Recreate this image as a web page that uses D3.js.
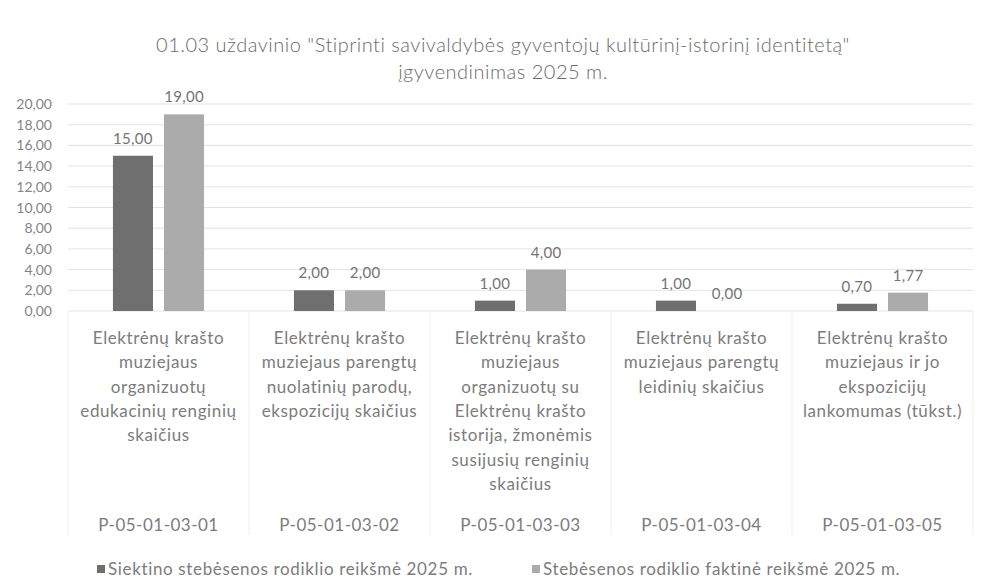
<!DOCTYPE html>
<html>
  <head>
    <meta charset="utf-8">
    <script src="https://cdnjs.cloudflare.com/ajax/libs/d3/7.8.5/d3.min.js"></script>
    <style>
      body { margin: 0; background: #fff; }
      svg { font-family: Lato, "Open Sans", sans-serif; }
      .grid line { stroke: #e3e3e3; stroke-width: 1; }
      .sep { stroke: #eeeeee; stroke-width: 1; }
      .tick-label { fill: #858585; font-size: 14px; }
      .value { fill: #747474; font-size: 15px; letter-spacing: 0.3px; }
      .cat { fill: #7c7c7c; font-size: 17px; letter-spacing: 0.6px; }
      .code { fill: #7c7c7c; font-size: 17px; letter-spacing: 0.5px; }
      .title { fill: #6a6a6a; font-size: 20px; letter-spacing: 0.5px; font-weight: 300; }
      .legend { fill: #7c7c7c; font-size: 17px; letter-spacing: 0.65px; }
    </style>
  </head>
  <body>
    <svg width="984" height="587"></svg>
    <script>
      var codes = ["P-05-01-03-01", "P-05-01-03-02", "P-05-01-03-03", "P-05-01-03-04", "P-05-01-03-05"];
      var categories = [
        ["Elektrėnų krašto", "muziejaus", "organizuotų", "edukacinių renginių", "skaičius"],
        ["Elektrėnų krašto", "muziejaus parengtų", "nuolatinių parodų,", "ekspozicijų skaičius"],
        ["Elektrėnų krašto", "muziejaus", "organizuotų su", "Elektrėnų krašto", "istorija, žmonėmis", "susijusių renginių", "skaičius"],
        ["Elektrėnų krašto", "muziejaus parengtų", "leidinių skaičius"],
        ["Elektrėnų krašto", "muziejaus ir jo", "ekspozicijų", "lankomumas (tūkst.)"]
      ];
      var seriesNames = ["Siektino stebėsenos rodiklio reikšmė 2025 m.", "Stebėsenos rodiklio faktinė reikšmė 2025 m."];
      var targetValues = [15, 2, 1, 1, 0.7];
      var actualValues = [19, 2, 4, 0, 1.77];
      var yTicks = [0, 2, 4, 6, 8, 10, 12, 14, 16, 18, 20];
      var titleLines = ["01.03 uždavinio \"Stiprinti savivaldybės gyventojų kultūrinį-istorinį identitetą\"", "įgyvendinimas 2025 m."];
      var colors = ["#6f6f6f", "#ababab"];

      var svg = d3.select("svg");
      var plotLeft = 68, plotRight = 973, plotTop = 104, plotBottom = 311;

      var x = d3.scaleBand().domain(codes).range([plotLeft, plotRight]).paddingInner(0).paddingOuter(0);
      var x1 = d3.scaleBand().domain([0, 1]).range([0, x.bandwidth()]).paddingInner(0.216).paddingOuter(0.88);
      var y = d3.scaleLinear().domain([0, 20]).range([plotBottom, plotTop]);
      var fmt = d => d3.format(".2f")(d).replace(".", ",");

      // title
      svg.selectAll("text.title").data(titleLines).enter().append("text")
        .attr("class", "title").attr("x", 503).attr("y", (d, i) => 52 + i * 27)
        .attr("text-anchor", "middle").text(d => d);

      // grid
      svg.append("g").attr("class", "grid").selectAll("line").data(yTicks).enter().append("line")
        .attr("x1", plotLeft).attr("x2", plotRight).attr("y1", d => y(d)).attr("y2", d => y(d));

      svg.selectAll("text.tick-label").data(yTicks).enter().append("text")
        .attr("class", "tick-label").attr("x", 52).attr("y", d => y(d) + 5)
        .attr("text-anchor", "end").text(fmt);

      // category separators
      var bounds = codes.map(c => x(c)).concat([plotRight]);
      svg.selectAll("line.sep").data(bounds).enter().append("line")
        .attr("class", "sep").attr("x1", d => d).attr("x2", d => d)
        .attr("y1", plotBottom).attr("y2", 535);

      // bars
      var rows = codes.map((c, i) => ({ code: c, vals: [targetValues[i], actualValues[i]] }));
      var groups = svg.selectAll("g.cat").data(rows).enter().append("g")
        .attr("transform", d => "translate(" + x(d.code) + ",0)");

      groups.selectAll("rect").data(d => d.vals).enter().append("rect")
        .attr("x", (d, i) => x1(i)).attr("width", x1.bandwidth())
        .attr("y", d => y(d)).attr("height", d => y(0) - y(d))
        .attr("fill", (d, i) => colors[i]);

      groups.selectAll("text.value").data(d => d.vals).enter().append("text")
        .attr("class", "value").attr("text-anchor", "middle")
        .attr("x", (d, i) => x1(i) + x1.bandwidth() / 2)
        .attr("y", d => y(d) - 12).text(fmt);

      // category labels
      codes.forEach((c, i) => {
        var t = svg.append("text").attr("class", "cat").attr("text-anchor", "middle");
        t.selectAll("tspan").data(categories[i]).enter().append("tspan")
          .attr("x", x(c) + x.bandwidth() / 2).attr("y", (d, j) => 344 + j * 24.3).text(d => d);
      });

      svg.selectAll("text.code").data(codes).enter().append("text")
        .attr("class", "code").attr("text-anchor", "middle")
        .attr("x", d => x(d) + x.bandwidth() / 2).attr("y", 531).text(d => d);

      // legend
      var legX = [97, 532];
      var leg = svg.selectAll("g.legend").data(seriesNames).enter().append("g")
        .attr("transform", (d, i) => "translate(" + legX[i] + ",565)");
      leg.append("rect").attr("width", 8).attr("height", 8).attr("fill", (d, i) => colors[i]);
      leg.append("text").attr("class", "legend").attr("x", 11).attr("y", 10).text(d => d);
    </script>
  </body>
</html>
